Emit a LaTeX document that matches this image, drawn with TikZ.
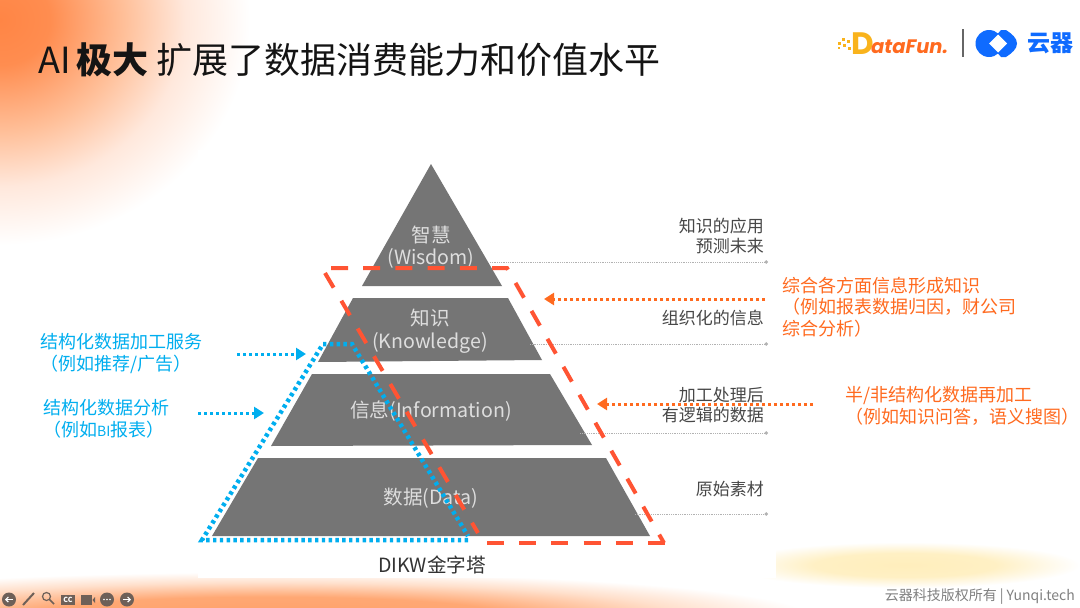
\documentclass[tikz,border=0pt]{standalone}
\usepackage{fontspec}
\setmainfont{Noto Sans CJK SC}
\newfontfamily\logofont{Poppins}
\usetikzlibrary{arrows.meta,positioning}
\definecolor{dfOrange}{HTML}{FF6A1F}
\definecolor{dfRed}{HTML}{FF5433}
\definecolor{dfBlue}{HTML}{00AEEF}
\definecolor{dfGray}{HTML}{757575}
\definecolor{dfTool}{HTML}{6E6058}
\definecolor{dfLogo}{HTML}{0F6BFF}
\definecolor{dfYellow}{HTML}{F9B31C}
\definecolor{glowA}{HTML}{FF8545}
\definecolor{glowB}{HTML}{FF8D50}
\definecolor{glowC}{HTML}{FFC09A}
\definecolor{glowD}{HTML}{FFE8DC}
\definecolor{bandA}{HTML}{FFA069}
\definecolor{bandB}{HTML}{FFA874}
\definecolor{bandC}{HTML}{FFE0CC}
\definecolor{sunA}{HTML}{FFEEBC}
\definecolor{sunB}{HTML}{FFF0C4}
\definecolor{sunC}{HTML}{FFFAEC}
\pgfdeclareradialshading{cornerglow}{\pgfpointorigin}{
  color(0bp)=(glowA); color(5bp)=(glowB); color(12.5bp)=(glowC);
  color(18.5bp)=(glowD); color(25bp)=(white); color(50bp)=(white)}
\pgfdeclareradialshading{bandglow}{\pgfpointorigin}{
  color(0bp)=(bandA); color(11bp)=(bandB); color(19bp)=(bandC);
  color(25bp)=(white); color(50bp)=(white)}
\pgfdeclareradialshading{yellowglow}{\pgfpointorigin}{
  color(0bp)=(sunA); color(13bp)=(sunB); color(21bp)=(sunC);
  color(25bp)=(white); color(50bp)=(white)}
\tikzset{
  layerbox/.style={fill=dfGray,draw=none},
  layertext/.style={text=black!13,inner sep=0pt,font=\fontsize{19.6}{22.5}\selectfont,align=center},
  sidetext/.style={text=black!72,inner sep=0pt,anchor=east,font=\fontsize{17}{20}\selectfont,align=right},
  notered/.style={text=dfOrange,inner sep=0pt,anchor=west,font=\fontsize{18}{21.5}\selectfont,align=left},
  noteblue/.style={text=dfBlue,inner sep=0pt,anchor=west,font=\fontsize{18}{22}\selectfont,align=left},
  hintline/.style={black!30,densely dotted,line width=0.8pt,-{Circle[length=3.5pt]}},
  redarrow/.style={dfOrange,line width=3pt,dash pattern=on 3pt off 3pt,-{Triangle[length=10pt,width=12pt]}},
  bluearrow/.style={dfBlue,line width=3pt,dash pattern=on 3pt off 3pt,-{Triangle[length=10pt,width=12pt]}},
  redframe/.style={dfRed,line width=4pt,dash pattern=on 17pt off 15.2pt},
  toolicon/.style={fill=dfTool,draw=none},
}
\begin{document}
\begin{tikzpicture}[x=1pt,y=-1pt]
 \useasboundingbox (0,0) rectangle (1080,608);
 % background glow
 \begin{scope}
  \clip (0,0) rectangle (1080,608);
  \fill[white] (0,0) rectangle (1080,608);
  \shade[shading=cornerglow] (0,20) ellipse (250 and 225);
  \shade[shading=bandglow] (270,616) ellipse (540 and 44);
  \shade[shading=yellowglow] (905,565) ellipse (175 and 23);
 \end{scope}
 \fill[white] (198,150) rectangle (776,578);
 % title
 \node[inner sep=0pt,anchor=west,font=\fontsize{36}{40}\selectfont,text=black!92] (title) at (38,60)
   {AI\hspace{6pt}\textbf{极大}\hspace{8pt}扩展了数据消费能力和价值水平};
 % pyramid
 \fill[layerbox] (431,164)--(502,286)--(362,286)--cycle;
 \fill[layerbox] (353,298)--(508,298)--(542,360)--(318,362)--cycle;
 \fill[layerbox] (312,374)--(550,374)--(592,445)--(271,446)--cycle;
 \fill[layerbox] (258,458)--(606,458)--(650,536)--(212,536)--cycle;
 \node[layertext] (wisdom) at (431,247) {智慧\\(Wisdom)};
 \node[layertext] (knowledge) at (430,331) {知识\\(Knowledge)};
 \node[layertext] (information) at (431,411) {信息(Information)};
 \node[layertext] (data) at (431,498) {数据(Data)};
 \node[inner sep=0pt,text=black!80,font=\fontsize{19.6}{22}\selectfont] (dikw) at (432,565) {DIKW金字塔};
 % right column
 \node[sidetext] (apply) at (764,236) {知识的应用\\预测未来};
 \node[sidetext] (organized) at (764,318) {组织化的信息};
 \node[sidetext] (processed) at (764,405) {加工处理后\\有逻辑的数据};
 \node[sidetext] (raw) at (764,489) {原始素材};
 \foreach \name/\xa/\ya in {a/490/262,b/530/344,c/580/433,d/635/514}{
   \coordinate (h\name s) at (\xa,\ya);
   \coordinate (h\name e) at (768,\ya);
   \draw[hintline] (h\name s)--(h\name e);
 }
 % notes
 \node[notered] (noteKnow) at (782,307) {综合各方面信息形成知识\\（例如报表数据归因，财公司\\综合分析）};
 \node[notered] (noteSemi) at (845,406) {半/非结构化数据再加工\\（例如知识问答，语义搜图）};
 \node[noteblue] (noteServe) at (40,354) {结构化数据加工服务\\（例如推荐/广告）};
 \node[noteblue] (noteBI) at (43,419) {结构化数据分析\\（例如{\fontsize{14}{15}\selectfont BI}报表）};
 % arrows
 \coordinate (r1s) at (765,299); \coordinate (r1e) at (544,299);
 \coordinate (r2s) at (813,404); \coordinate (r2e) at (597,404);
 \coordinate (b1s) at (237,354); \coordinate (b1e) at (306,354);
 \coordinate (b2s) at (198,413); \coordinate (b2e) at (264,413);
 \draw[redarrow] (r1s)--(r1e);
 \draw[redarrow] (r2s)--(r2e);
 \draw[bluearrow] (b1s)--(b1e);
 \draw[bluearrow] (b2s)--(b2e);
 % frames
 \draw[redframe] (331,268)--(507,268)--(664,543);
 \draw[redframe] (487,543)--(665,543);
 \draw[redframe] (325,273)--(478,533);
 \draw[dfBlue,line width=4.5pt,dash pattern=on 3.4pt off 3.4pt] (468,540)--(202,540)--(323,344)--(352,344)--(468,536);
 % logos
 \node[inner sep=0pt,anchor=base west,font=\logofont\fontsize{31}{34}\bfseries\selectfont,text=dfYellow] (dataD) at (851,54) {D};
 \node[inner sep=0pt,anchor=base west,font=\logofont\fontsize{19.5}{24}\bfseries\itshape\selectfont,text=dfOrange] (dataFun) at (871,53) {ataFun.};
 \foreach \x/\y/\s in {838/42/2.5,842/38/2.5,843/44/2.5,847/40/3,848/47/3,838/47/2}{
   \fill[dfYellow] (\x,\y) rectangle ++(\s,\s);
 }
 \draw[black!60,line width=1.2pt] (963,29)--(963,57);
 \fill[dfLogo] (989,43.5) circle (13.5);
 \fill[dfLogo] (1001,30) -- (1006,30) .. controls (1012,34) and (1017,38) .. (1017,43.5)
   .. controls (1017,49) and (1012,53) .. (1006,57) -- (1001,57) -- (995,50) -- (995,37) -- cycle;
 \fill[white] (998,34.5)--(1007,43.5)--(998,52.5)--(989,43.5)--cycle;
 \node[inner sep=0pt,anchor=west,font=\fontsize{23}{26}\bfseries\selectfont,text=dfLogo] (yunqi) at (1027,43) {云器};
 % footer
 \node[inner sep=0pt,anchor=east,text=black!50,font=\fontsize{14}{15}\selectfont] (footer) at (1075,596.5) {云器科技版权所有\hspace{3pt}|\hspace{3pt}Yunqi.tech};
 % toolbar
 \foreach \x in {9,107,127}{\fill[toolicon] (\x,599.5) circle (7);}
 \draw[white,line width=1.2pt,-{Straight Barb[length=2.5pt,width=5pt]}] (13,599.5)--(5,599.5);
 \draw[white,line width=1.2pt,-{Straight Barb[length=2.5pt,width=5pt]}] (123,599.5)--(131,599.5);
 \foreach \x in {104,107,110}{\fill[white] (\x,599.5) circle (0.9);}
 \draw[dfTool,line width=2pt] (23,605)--(34,593);
 \draw[dfTool,line width=1.2pt] (46.5,596.5) circle (4);
 \draw[dfTool,line width=1.5pt] (49.5,599.5)--(54,604);
 \fill[toolicon] (61,595) rectangle (75,605);
 \node[inner sep=0pt,text=white,font=\fontsize{7}{8}\bfseries\selectfont] (ccmark) at (68,600) {CC};
 \fill[toolicon] (81,595) rectangle (92,605);
 \fill[toolicon] (92.5,600)--(95,597)--(95,603)--cycle;
\end{tikzpicture}
\end{document}
